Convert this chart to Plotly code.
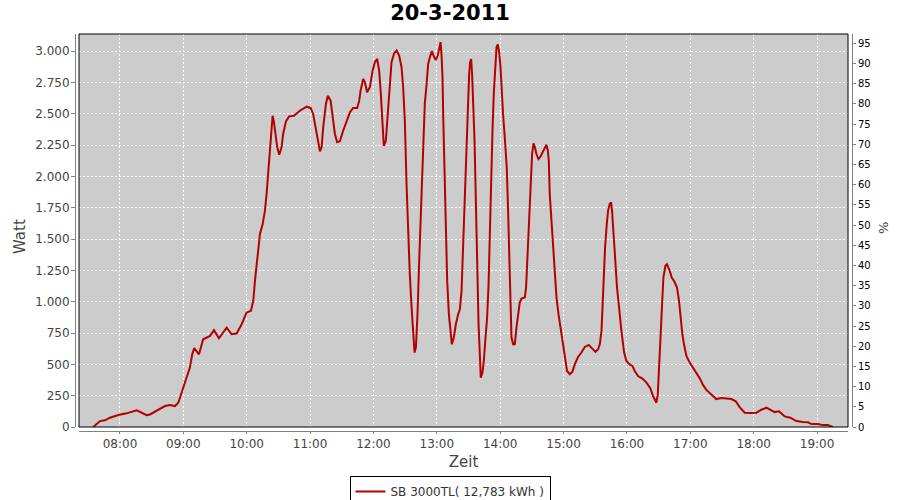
import plotly.graph_objects as go

datum = "2011-03-20"
zeit = ["07:34:42","07:41:06","07:45:48","07:50:30","07:58:24","08:06:18","08:15:48","08:18:54","08:25:18","08:28:24",
"08:34:42","08:42:36","08:47:18","08:52:06","08:55:12","08:58:24","09:03:06","09:06:12","09:08:24","09:10:18",
"09:14:48","09:18:48","09:25:12","09:29:00","09:33:42","09:41:00","09:45:42","09:50:24","09:55:12","09:59:54",
"10:04:00","10:06:12","10:07:48","10:09:54","10:12:30","10:15:06","10:17:12","10:18:48","10:20:18","10:22:00",
"10:23:36","10:24:30","10:25:42","10:27:36","10:28:54","10:30:48","10:33:00","10:34:30","10:37:06","10:40:12",
"10:44:42","10:50:18","10:56:42","11:00:30","11:02:54","11:05:12","11:07:06","11:09:18","11:10:54","11:12:24",
"11:15:00","11:16:48","11:19:24","11:21:18","11:23:30","11:25:36","11:28:12","11:31:18","11:34:30","11:37:42",
"11:40:48","11:44:36","11:46:30","11:47:48","11:50:18","11:51:54","11:54:00","11:56:36","11:59:12","12:01:18",
"12:03:30","12:05:24","12:07:00","12:08:36","12:09:48","12:11:42","12:13:18","12:14:54","12:17:06","12:19:36",
"12:21:54","12:24:18","12:26:36","12:28:06","12:29:42","12:31:18","12:32:48","12:34:24","12:36:06","12:37:36",
"12:38:54","12:40:12","12:41:42","12:43:18","12:45:30","12:47:00","12:48:36","12:50:18","12:51:48","12:53:24",
"12:55:18","12:57:12","12:59:06","13:00:54","13:02:12","13:03:30","13:04:24","13:05:24","13:06:00","13:06:54",
"13:07:36","13:08:30","13:09:48","13:11:24","13:13:00","13:14:12","13:16:06","13:18:00","13:20:12","13:21:48",
"13:23:24","13:24:18","13:25:36","13:26:48","13:28:06","13:29:18","13:30:36","13:31:30","13:32:30","13:33:24",
"13:34:24","13:35:42","13:36:36","13:37:36","13:38:30","13:39:30","13:40:42","13:41:36","13:43:12","13:44:30",
"13:46:06","13:47:36","13:49:00","13:50:12","13:51:24","13:52:42","13:53:54","13:55:12","13:56:30","13:57:42",
"13:59:00","14:00:18","14:01:30","14:02:42","14:04:06","14:05:18","14:06:12","14:07:12","14:08:06","14:09:06",
"14:10:42","14:12:12","14:13:48","14:15:24","14:17:00","14:18:30","14:20:12","14:23:18","14:24:30","14:25:30",
"14:26:48","14:28:00","14:29:12","14:30:12","14:31:30","14:32:42","14:34:18","14:36:12","14:38:06","14:40:00",
"14:42:12","14:43:48","14:45:06","14:46:00","14:46:54","14:48:30","14:50:06","14:51:24","14:53:18","14:55:12",
"14:57:06","14:59:00","15:01:12","15:03:18","15:05:54","15:08:24","15:10:36","15:13:42","15:16:54","15:20:06",
"15:23:48","15:27:00","15:30:12","15:32:42","15:34:18","15:35:54","15:36:48","15:38:00","15:39:18","15:40:54",
"15:42:06","15:43:42","15:45:00","15:45:54","15:46:54","15:48:12","15:49:24","15:50:36","15:52:12","15:53:12",
"15:54:24","15:55:42","15:57:18","15:59:30","16:02:36","16:05:12","16:07:24","16:10:30","16:14:42","16:18:30",
"16:22:12","16:24:42","16:26:36","16:27:54","16:29:12","16:30:24","16:31:42","16:32:54","16:34:30","16:36:24",
"16:37:54","16:40:30","16:42:24","16:44:54","16:47:24","16:49:18","16:50:54","16:52:30","16:54:00","16:56:18",
"16:59:24","17:02:36","17:05:48","17:08:54","17:12:00","17:15:12","17:19:54","17:24:36","17:29:24","17:34:06",
"17:38:54","17:43:00","17:46:42","17:51:30","17:56:12","18:02:36","18:07:18","18:12:00","18:15:06","18:19:54",
"18:23:54","18:29:18","18:34:42","18:40:24","18:46:36","18:51:24","18:54:36","19:00:48","19:05:36","19:10:18",
"19:13:30","19:15:00"]
watt = [0,47,53,74,95,109,133,119,95,100,
127,167,175,167,194,274,394,474,580,629,
580,700,727,773,708,793,740,746,820,914,
927,1007,1166,1326,1539,1619,1725,1858,2018,2258,
2418,2484,2439,2338,2232,2172,2232,2338,2439,2479,
2484,2524,2556,2546,2498,2391,2285,2200,2232,2391,
2578,2644,2604,2471,2338,2272,2280,2364,2431,2511,
2546,2546,2604,2684,2777,2751,2671,2711,2844,2911,
2937,2844,2657,2444,2244,2284,2471,2711,2911,2983,
3004,2964,2871,2711,2444,1939,1539,1219,953,740,
594,634,900,1326,1832,2258,2578,2737,2897,2951,
2999,2956,2929,2964,3031,3071,2977,2791,2498,2152,
1779,1406,1166,900,740,660,714,820,900,940,
1086,1299,1619,1939,2285,2578,2817,2911,2937,2817,
2604,2285,1939,1539,1166,820,580,394,434,527,
714,873,1140,1593,2018,2364,2657,2871,3031,3052,
2991,2871,2657,2498,2338,2218,2072,1805,1513,1006,
714,660,660,793,886,993,1025,1033,1113,1299,
1619,1832,2018,2178,2264,2237,2178,2138,2157,2192,
2232,2253,2205,2125,1858,1672,1486,1273,1033,900,
790,687,554,447,421,442,500,559,594,639,
655,628,599,620,660,767,953,1193,1433,1619,
1725,1779,1792,1725,1565,1433,1273,1113,1006,900,
793,687,594,527,500,487,447,407,386,354,
308,247,207,194,260,474,740,1033,1193,1286,
1299,1246,1193,1161,1113,1006,846,740,660,567,
514,474,426,390,336,296,260,223,231,229,
223,205,159,114,111,114,138,154,138,119,
125,85,74,47,39,37,23,23,15,15,
5,0]

titel = "20-3-2011"
serie = "SB 3000TL( 12,783 kWh )"
x_titel = "Zeit"
y_titel = "Watt"
y2_titel = "%"
x_bereich = ["07:21:12", "19:29:18"]
y_bereich = [0, 3136]
y2_bereich = [0, 97.3]

FONT = "DejaVu Sans"
x = [f"{datum} {t}" for t in zeit]

fig = go.Figure()
fig.add_trace(go.Scatter(x=x, y=watt, mode="lines", name=serie,
                         line=dict(color="#B40000", width=2)))
fig.add_trace(go.Scatter(x=[x[0]], y=[None], yaxis="y2", showlegend=False,
                         hoverinfo="skip", mode="lines"))

W, H = 900, 500
ml, mr, mt, mb = 75, 48, 34, 69
pw, ph = W - ml - mr, H - mt - mb
xd = [(79 - ml) / pw, (848 - ml) / pw]
yd = [(431 - 427) / ph, 1]

grid = dict(showgrid=True, gridcolor="white", gridwidth=1, griddash="2px,2px")

fig.update_layout(
    width=W, height=H,
    margin=dict(l=ml, r=mr, t=mt, b=mb),
    paper_bgcolor="white", plot_bgcolor="#CCCCCC",
    separators=",.",
    font=dict(family=FONT, size=12, color="#444444"),
    title=dict(text=f"<b>{titel}</b>", x=0.5, xanchor="center", xref="container",
               y=1 - 13 / H, yanchor="middle",
               font=dict(family=FONT, size=21, color="black")),
    showlegend=True,
    legend=dict(orientation="h", x=0.5, xanchor="center", xref="container",
                yref="container", y=1 - 476 / H, yanchor="top",
                bordercolor="black", borderwidth=1, bgcolor="white",
                font=dict(family=FONT, size=12, color="#333333"),
                itemwidth=30, tracegroupgap=0),
    xaxis=dict(domain=xd, anchor="free", position=0,
               type="date", range=[f"{datum} {x_bereich[0]}", f"{datum} {x_bereich[1]}"],
               tickformat="%H:%M", dtick=3600000, tick0=f"{datum} 08:00",
               showline=True, linecolor="#808080", linewidth=1,
               ticks="outside", ticklen=2, tickcolor="#808080",
               tickfont=dict(family=FONT, size=12, color="#444444"),
               title=dict(text=x_titel, standoff=6,
                          font=dict(family=FONT, size=15, color="#444444")),
               zeroline=False, automargin=False, **grid),
    yaxis=dict(domain=yd, anchor="free", position=0,
               range=y_bereich, dtick=250, tick0=0, tickformat=",d",
               showline=True, linecolor="#808080", linewidth=1,
               ticks="outside", ticklen=4, tickcolor="#808080",
               ticklabelstandoff=-1,
               tickfont=dict(family=FONT, size=12, color="#444444"),
               zeroline=False, automargin=False, **grid),
    yaxis2=dict(domain=yd, overlaying="y", side="right", anchor="free", position=1,
                range=y2_bereich, dtick=5, tick0=0,
                showline=True, linecolor="#808080", linewidth=1,
                ticks="outside", ticklen=3, tickcolor="#808080",
                tickfont=dict(family=FONT, size=10, color="black"),
                showgrid=False, zeroline=False, automargin=False),
    shapes=[dict(type="rect", xref="x domain", yref="y domain", x0=0, x1=1, y0=0, y1=1,
                 line=dict(color="black", width=1), layer="above")],
    annotations=[
        dict(text=y2_titel, xref="paper", yref="paper",
             x=(883 - ml) / pw, y=(431 - 228) / ph,
             xanchor="center", yanchor="middle", textangle=-90, showarrow=False,
             font=dict(family=FONT, size=13, color="#444444")),
        dict(text=y_titel, xref="paper", yref="paper",
             x=(20 - ml) / pw, y=(431 - 236) / ph,
             xanchor="center", yanchor="middle", textangle=-90, showarrow=False,
             font=dict(family=FONT, size=15, color="#444444")),
    ],
)

fig.write_html("out.html", config={"displayModeBar": False},
               post_script="document.body.style.margin='0';document.body.style.padding='0';"
                           "document.body.style.overflow='hidden';")
